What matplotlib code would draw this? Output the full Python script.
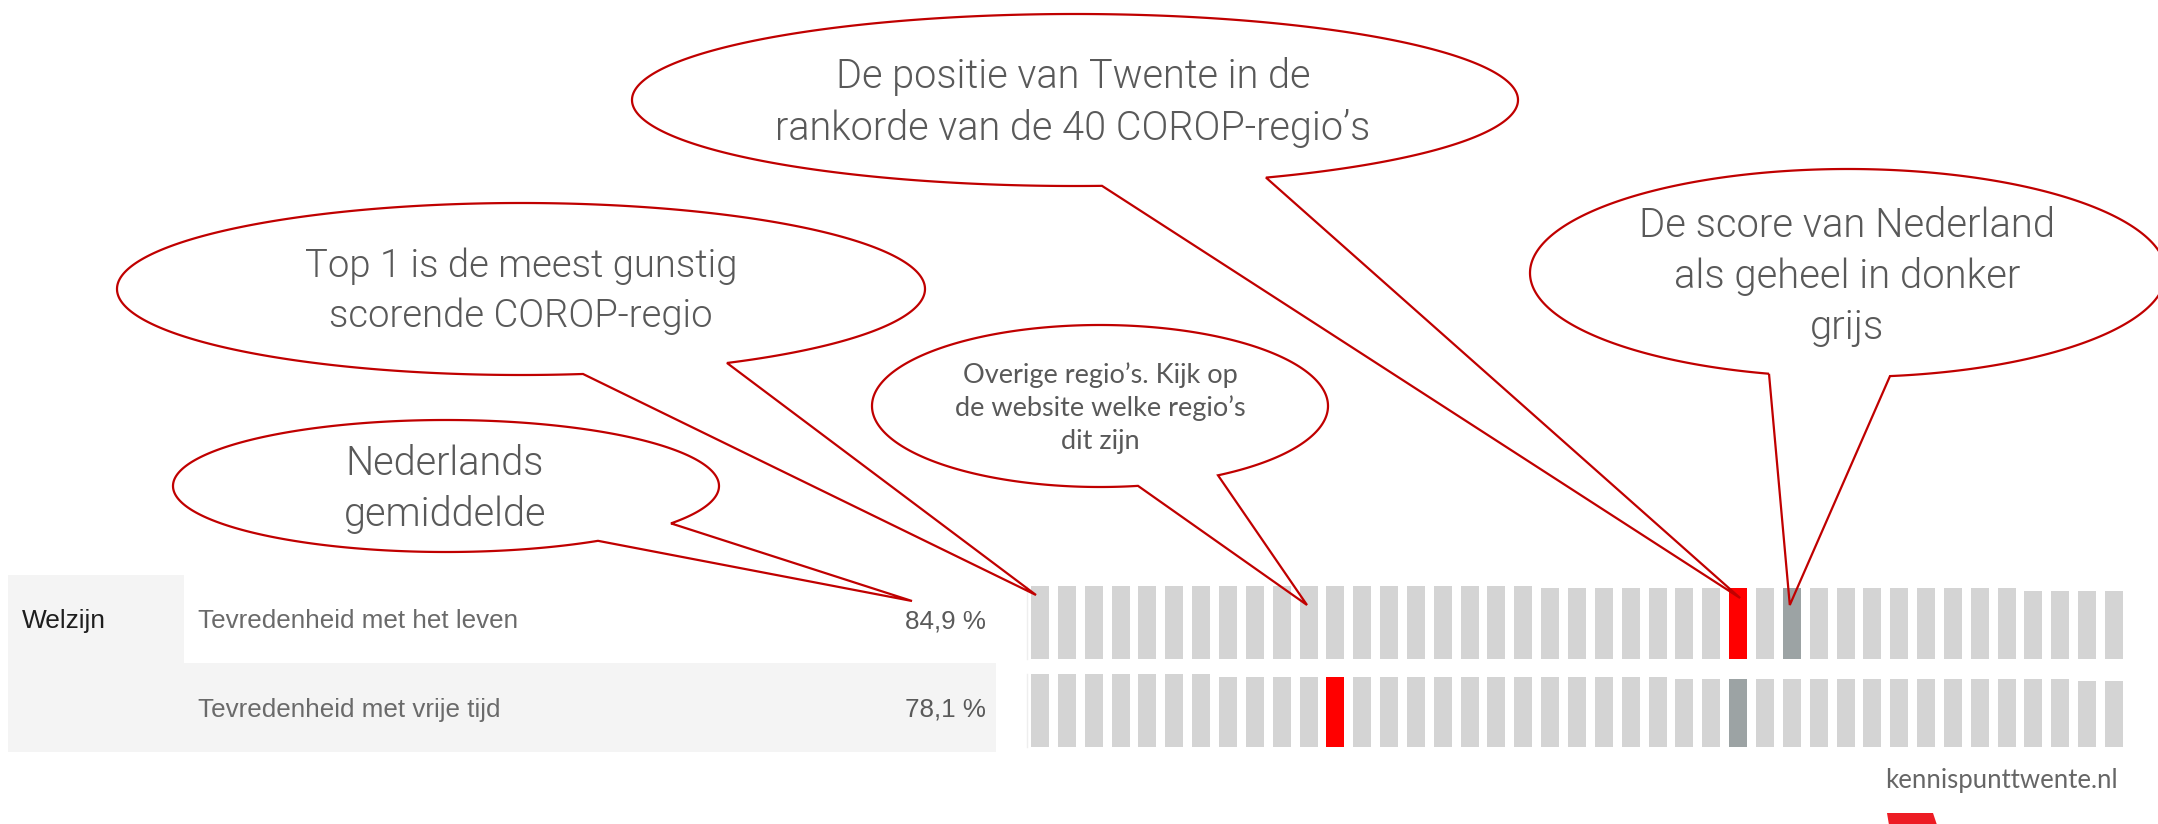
import numpy as np
import matplotlib
matplotlib.use("Agg")
import matplotlib.pyplot as plt
from matplotlib.path import Path
from matplotlib.patches import PathPatch, Rectangle, Polygon
from matplotlib import font_manager as fm

# ---------------- data ----------------
indicators = ["Tevredenheid met het leven", "Tevredenheid met vrije tijd"]
theme = "Welzijn"
nl_values = ["84,9 %", "78,1 %"]
# relative bar heights of the 41 bars (40 COROP-regio's + Nederland), ranked
row1_values = [100, 100, 100, 100, 100, 100, 100, 100, 100, 100,
               100, 100, 100, 100, 100, 100, 100, 100, 100, 96.4,
               96.4, 96.4, 96.4, 96.4, 96.4, 96.4, 96.4, 96.4, 96.4, 96.4,
               96.4, 96.4, 96.4, 96.4, 96.4, 96.4, 96.4, 93.2, 93.2, 93.2,
               93.2]
row2_values = [100, 100, 100, 100, 100, 100, 100, 96.3, 96.3, 96.3,
               96.3, 96.3, 96.3, 96.3, 96.3, 96.3, 96.3, 96.3, 96.3, 96.3,
               96.3, 96.3, 96.3, 96.3, 93.6, 93.6, 93.6, 93.6, 93.6, 93.6,
               93.6, 93.6, 93.6, 93.6, 93.6, 93.6, 93.6, 93.6, 93.6, 90.4,
               90.4]
twente_rank = [27, 12]      # 1-based position of Twente in each row
nl_rank = [29, 27]          # 1-based position of Nederland in each row

# ---------------- style ----------------
W, H = 2158, 824
C_LIGHT = "#D4D4D4"
C_RED = "#FF0000"
C_NL = "#9CA3A4"
C_EDGE = "#C00000"
C_TXT = "#595959"

avail = {f.name for f in fm.fontManager.ttflist}
def pick(*names):
    for n in names:
        if n in avail:
            return n
    return "DejaVu Sans"

BUB_FONT = pick("Roboto", "Lato")
SMALL_FONT = pick("Lato", "Open Sans", "Roboto")
TABLE_FONT = pick("Liberation Sans", "Arimo", "DejaVu Sans")

fig = plt.figure(figsize=(W / 100, H / 100), dpi=100)
fig.patch.set_facecolor("white")

def px_axes(left, top, width, height, z):
    ax = fig.add_axes([left / W, 1 - (top + height) / H, width / W, height / H])
    ax.set_zorder(z)
    ax.patch.set_alpha(0)
    return ax

ax_bg = px_axes(0, 0, W, H, 0)
ax_bg.set_xlim(0, W); ax_bg.set_ylim(H, 0); ax_bg.axis("off")
ax_fg = px_axes(0, 0, W, H, 5)
ax_fg.set_xlim(0, W); ax_fg.set_ylim(H, 0); ax_fg.axis("off")

# ---------------- table ----------------
ax_bg.add_patch(Rectangle((8, 575), 176, 177, facecolor="#F4F4F4", edgecolor="none"))
ax_bg.add_patch(Rectangle((8, 663), 988, 89, facecolor="#F4F4F4", edgecolor="none"))
row_base = [628, 717]
ax_bg.text(22, row_base[0], theme, fontsize=18.9, family=TABLE_FONT,
           color="#1E1E1E", va="baseline", ha="left")
for i, (lab, val) in enumerate(zip(indicators, nl_values)):
    ax_bg.text(198, row_base[i], lab, fontsize=18.7, family=TABLE_FONT,
               color="#6A6A6A", va="baseline", ha="left")
    ax_bg.text(986, row_base[i], val, fontsize=18.7, family=TABLE_FONT,
               color="#5A5A5A", va="baseline", ha="right")

# ---------------- rank bars ----------------
PITCH = 26.85
BAR0 = 1040.0
bar_rows = [(585.7, 73.3, row1_values), (674.0, 73.0, row2_values)]
x_idx = np.arange(len(row1_values))
for r, (top, hgt, vals) in enumerate(bar_rows):
    ax = px_axes(BAR0 - 0.5 * PITCH, top, len(vals) * PITCH, hgt, 2)
    cols = [C_LIGHT] * len(vals)
    cols[twente_rank[r] - 1] = C_RED
    cols[nl_rank[r] - 1] = C_NL
    ax.bar(x_idx, vals, width=18 / PITCH, color=cols, linewidth=0)
    ax.set_xlim(-0.5, len(vals) - 0.5)
    ax.set_ylim(0, 100)
    ax.set_xticks([]); ax.set_yticks([])
    for s in ["top", "right", "bottom"]:
        ax.spines[s].set_visible(False)
    ax.spines["left"].set_color("#EEEEEE")
    ax.spines["left"].set_linewidth(1.0)

def bar_center(rank):
    return BAR0 + (rank - 1) * PITCH

# ---------------- speech bubbles ----------------
def bubble_path(cx, cy, a, b, bx1, bx2, tip):
    t1 = np.arccos(np.clip((bx1 - cx) / a, -1, 1))
    t2 = np.arccos(np.clip((bx2 - cx) / a, -1, 1))
    t = np.linspace(t1, t2 + 2 * np.pi, 400)
    pts = np.column_stack([cx + a * np.cos(t), cy + b * np.sin(t)])
    pts = np.vstack([pts, tip, pts[0]])
    codes = [Path.MOVETO] + [Path.LINETO] * (len(pts) - 2) + [Path.CLOSEPOLY]
    return Path(pts, codes)

bubbles = [
    dict(cx=1075, cy=100, a=443, b=86, bx=(1102, 1266),
         tip=(bar_center(twente_rank[0]) + 2, 598)),
    dict(cx=521, cy=289, a=404, b=86, bx=(583, 727), tip=(1036, 595)),
    dict(cx=446, cy=486, a=273, b=66, bx=(598, 671), tip=(912, 601)),
    dict(cx=1100, cy=406, a=228, b=81, bx=(1138, 1218), tip=(1307, 605)),
    dict(cx=1848, cy=273, a=318, b=104, bx=(1769, 1890),
         tip=(bar_center(nl_rank[0]) - 2, 605)),
]
for bd in bubbles:
    p = bubble_path(bd["cx"], bd["cy"], bd["a"], bd["b"], bd["bx"][0], bd["bx"][1], bd["tip"])
    ax_bg.add_patch(PathPatch(p, facecolor="white", edgecolor="none"))
    ax_fg.add_patch(PathPatch(p, facecolor="none", edgecolor=C_EDGE,
                              linewidth=1.6, joinstyle="miter"))

big_texts = [
    (1073, 28.5, [(88, "De positie van Twente in de"), (140, "rankorde van de 40 COROP-regio’s")]),
    (521, 27.5, [(277, "Top 1 is de meest gunstig"), (327, "scorende COROP-regio")]),
    (445, 28.5, [(475, "Nederlands"), (526, "gemiddelde")]),
    (1847, 28.8, [(237, "De score van Nederland"), (288, "als geheel in donker"), (339, "grijs")]),
]
for x, fs, lines in big_texts:
    for y, s in lines:
        ax_fg.text(x, y, s, ha="center", va="baseline", fontsize=fs,
                   family=BUB_FONT, fontweight=300, color=C_TXT)

for y, s in [(383, "Overige regio’s. Kijk op"), (416, "de website welke regio’s"), (449, "dit zijn")]:
    ax_fg.text(1100, y, s, ha="center", va="baseline", fontsize=19.5,
               family=SMALL_FONT, color=C_TXT)

# ---------------- logo ----------------
ax_fg.text(2001, 788, "kennispunttwente.nl", ha="center", va="baseline",
           fontsize=18.5, family=SMALL_FONT, color="#666666")
ax_fg.add_patch(Polygon([(1887, 813), (1933, 813), (1937, 825), (1889, 825)],
                        closed=True, facecolor="#ED1C24", edgecolor="none"))

fig.savefig("out.png", dpi=100, facecolor="white")
